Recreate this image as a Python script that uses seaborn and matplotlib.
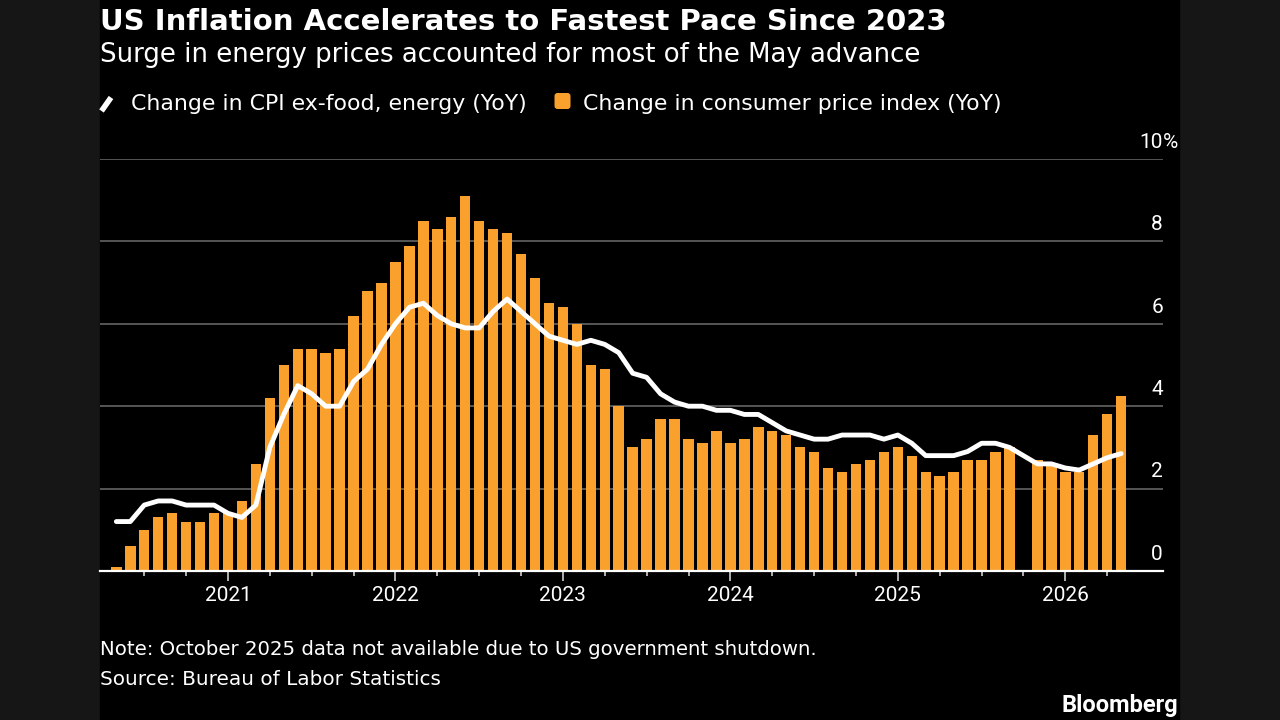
import numpy as np
import pandas as pd
import matplotlib.pyplot as plt
import matplotlib.transforms as mtransforms
import seaborn as sns
from matplotlib.lines import Line2D
from matplotlib.patches import FancyBboxPatch, Rectangle

# monthly YoY % changes, May 2020 - May 2026 (Oct 2025 missing)
months = pd.period_range('2020-05', '2026-05', freq='M')
cpi = [0.1, 0.6, 1.0, 1.3, 1.4, 1.2, 1.2, 1.4,
       1.4, 1.7, 2.6, 4.2, 5.0, 5.4, 5.4, 5.3, 5.4, 6.2, 6.8, 7.0,
       7.5, 7.9, 8.5, 8.3, 8.6, 9.1, 8.5, 8.3, 8.2, 7.7, 7.1, 6.5,
       6.4, 6.0, 5.0, 4.9, 4.0, 3.0, 3.2, 3.7, 3.7, 3.2, 3.1, 3.4,
       3.1, 3.2, 3.5, 3.4, 3.3, 3.0, 2.9, 2.5, 2.4, 2.6, 2.7, 2.9,
       3.0, 2.8, 2.4, 2.3, 2.4, 2.7, 2.7, 2.9, 3.0, np.nan, 2.7, 2.6,
       2.4, 2.4, 3.3, 3.8, 4.25]
core = [1.2, 1.2, 1.6, 1.7, 1.7, 1.6, 1.6, 1.6,
        1.4, 1.3, 1.6, 3.0, 3.8, 4.5, 4.3, 4.0, 4.0, 4.6, 4.9, 5.5,
        6.0, 6.4, 6.5, 6.2, 6.0, 5.9, 5.9, 6.3, 6.6, 6.3, 6.0, 5.7,
        5.6, 5.5, 5.6, 5.5, 5.3, 4.8, 4.7, 4.3, 4.1, 4.0, 4.0, 3.9,
        3.9, 3.8, 3.8, 3.6, 3.4, 3.3, 3.2, 3.2, 3.3, 3.3, 3.3, 3.2,
        3.3, 3.1, 2.8, 2.8, 2.8, 2.9, 3.1, 3.1, 3.0, np.nan, 2.6, 2.6,
        2.5, 2.45, 2.6, 2.75, 2.85]
y_ticks = [0, 2, 4, 6, 8, 10]

df = pd.DataFrame({'pos': np.arange(len(months)), 'cpi': cpi, 'core': core,
                   'month': months.month, 'year': months.year})

ORANGE = '#f9a12c'
sns.set_theme(style='dark', rc={'axes.facecolor': 'black', 'figure.facecolor': '#161616'})
plt.rcParams['font.family'] = ['DejaVu Sans']
ROBOTO = ['Roboto', 'DejaVu Sans']

fig = plt.figure(figsize=(12.8, 7.2), dpi=100)
# black main panel, darker grey side strips
fig.add_artist(Rectangle((100 / 1280, 0), 1079 / 1280, 1, transform=fig.transFigure,
                         color='black', zorder=-5))

ax = fig.add_axes([100 / 1280, 149 / 720, 1063 / 1280, 412 / 720])
ax.set_facecolor('black')

sns.barplot(data=df.dropna(subset=['cpi']), x='pos', y='cpi', native_scale=True,
            width=0.75, color=ORANGE, saturation=1, errorbar=None,
            edgecolor='none', ax=ax, zorder=2)
sns.lineplot(data=df.dropna(subset=['core']), x='pos', y='core', color='white',
             lw=3.5, ax=ax, zorder=3, solid_joinstyle='round', solid_capstyle='round')

ax.set_xlim(-1.17, 75.0)
ax.set_ylim(0, 10)
ax.set_xlabel('')
ax.set_ylabel('')

jan = df[df['month'] == 1]
ax.set_xticks(jan['pos'])
ax.set_xticklabels(jan['year'].astype(str), family=ROBOTO)
ax.set_xticks(df[df['month'].isin([4, 7, 10])]['pos'], minor=True)
ax.tick_params(axis='x', which='major', bottom=True, length=7, width=1.2,
               color='#d0d0d0', labelcolor='white', labelsize=15, pad=4)
ax.tick_params(axis='x', which='minor', bottom=True, length=3.5, width=1.2,
               color='#d0d0d0')

ax.set_yticks(y_ticks[1:])
ax.tick_params(axis='y', left=False, right=False, labelleft=False)
ax.yaxis.grid(True, color='#5c5c5c', lw=1.3)
ax.xaxis.grid(False)
ax.set_axisbelow(True)

for s in ['top', 'left', 'right']:
    ax.spines[s].set_visible(False)
ax.spines['bottom'].set_color('white')
ax.spines['bottom'].set_linewidth(1.6)
ax.spines['bottom'].set_zorder(4)

trans = mtransforms.offset_copy(mtransforms.blended_transform_factory(ax.transAxes, ax.transData),
                                fig=fig, y=8, units='points')
for v in y_ticks:
    ax.text(1.0, v, str(v), transform=trans, ha='right', va='baseline',
            color='white', fontsize=15, family=ROBOTO)
ax.text(1.0, y_ticks[-1], '%', transform=trans, ha='left', va='baseline',
        color='white', fontsize=15, family=ROBOTO)

# header
fig.text(100 / 1280, 1 - 30 / 720, 'US Inflation Accelerates to Fastest Pace Since 2023',
         color='white', fontsize=21, fontweight='bold', va='baseline')
fig.text(100 / 1280, 1 - 62 / 720, 'Surge in energy prices accounted for most of the May advance',
         color='white', fontsize=18.7, va='baseline')

# legend
fig.add_artist(Line2D([1.015, 1.11], [7.20 - 1.11, 7.20 - 0.975], transform=fig.dpi_scale_trans,
                      color='white', lw=4, solid_capstyle='butt'))
fig.text(131 / 1280, 1 - 110 / 720, 'Change in CPI ex-food, energy (YoY)',
         color='white', fontsize=15.8, va='baseline')
fig.add_artist(FancyBboxPatch((5.545, 7.20 - 1.09), 0.16, 0.16, transform=fig.dpi_scale_trans,
                              boxstyle='round,pad=0,rounding_size=0.03',
                              facecolor=ORANGE, edgecolor='none'))
fig.text(583 / 1280, 1 - 110 / 720, 'Change in consumer price index (YoY)',
         color='white', fontsize=15.8, va='baseline')

# footer
fig.text(100 / 1280, 1 - 655 / 720,
         'Note: October 2025 data not available due to US government shutdown.',
         color='white', fontsize=14.2, va='baseline')
fig.text(100 / 1280, 1 - 685 / 720, 'Source: Bureau of Labor Statistics',
         color='white', fontsize=14.4, va='baseline')
fig.text(1178 / 1280, 1 - 712 / 720, 'Bloomberg', color='white', fontsize=17,
         fontweight='bold', ha='right', va='baseline', family=ROBOTO)

fig.savefig('out.png', dpi=100, facecolor=fig.get_facecolor())
